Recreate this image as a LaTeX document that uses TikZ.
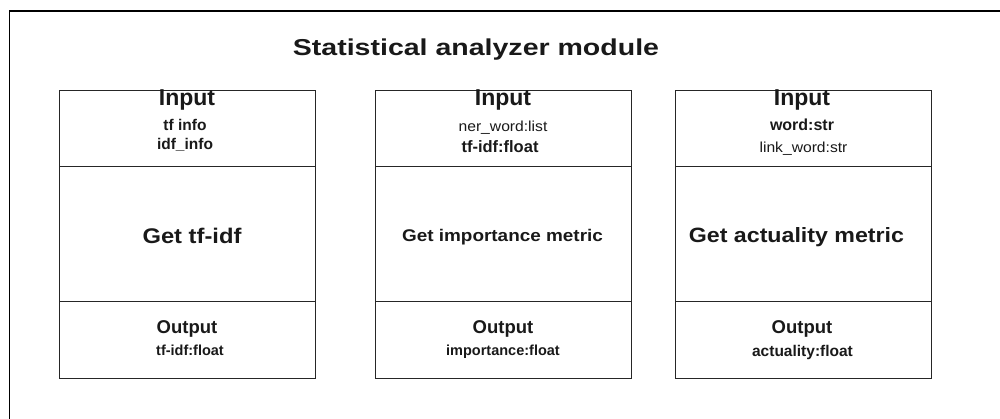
\documentclass[tikz,border=0pt]{standalone}
\usepackage{fontspec}
\setmainfont{Liberation Sans}
% slightly widened faces for the headline texts
\newfontfamily\titlefam[FakeStretch=1.24]{Liberation Sans}
\newfontfamily\headfam[FakeStretch=1.12]{Liberation Sans}
\newfontfamily\smallfam[FakeStretch=1.08]{Liberation Sans}

\tikzset{
  frame/.style={draw=black, line width=1.3pt},
  cell/.style={draw=black!85, line width=1.4pt, rectangle, anchor=north west,
               inner sep=0pt, minimum width=256pt},
  txt/.style={anchor=base, inner sep=0pt, text=black!90},
  title/.style={txt, font=\titlefam\bfseries\fontsize{23}{23}\selectfont},
  inhead/.style={txt, font=\bfseries\fontsize{23}{23}\selectfont},
  outhead/.style={txt, font=\bfseries\fontsize{18.5}{18.5}\selectfont},
  gettxt/.style={txt, font=\headfam\bfseries\fontsize{#1}{#1}\selectfont},
  valb/.style={txt, font=\bfseries\fontsize{#1}{#1}\selectfont},
  valr/.style={txt, font=\smallfam\fontsize{#1}{#1}\selectfont},
}

\begin{document}
\begin{tikzpicture}[x=1pt, y=-1pt]
  \useasboundingbox (0,0) rectangle (1000,419);
  \clip (0,0) rectangle (1000,419);

  % outer module frame (runs past the right and bottom edges)
  \node[frame, rectangle, anchor=north west, inner sep=0pt,
        minimum width=1010pt, minimum height=430pt] (module) at (9,10.5) {};

  \node[title] (ttl) at (476,56) {Statistical analyzer module};

  % ---- tf-idf block ----
  \node[cell, minimum height=76pt]  (in1)   at (59,90)  {};
  \node[cell, minimum height=135pt] (body1) at (59,166) {};
  \node[cell, minimum height=77pt]  (out1)  at (59,301) {};
  \node[inhead]      (in1h)  at (187,105.5) {Input};
  \node[valb=15.5]   (in1a)  at (185,131)   {tf info};
  \node[valb=15.5]   (in1b)  at (185,150)   {idf\_info};
  \node[gettxt=21.2] (get1)  at (192,244)   {Get tf-idf};
  \node[outhead]     (out1h) at (187,333)   {Output};
  \node[valb=14.5]   (out1a) at (190,355)   {tf-idf:float};

  % ---- importance block ----
  \node[cell, minimum height=76pt]  (in2)   at (375,90)  {};
  \node[cell, minimum height=135pt] (body2) at (375,166) {};
  \node[cell, minimum height=77pt]  (out2)  at (375,301) {};
  \node[inhead]      (in2h)  at (503,106)   {Input};
  \node[valr=14.5]   (in2a)  at (503,131.5) {ner\_word:list};
  \node[valb=16.5]   (in2b)  at (500,153)   {tf-idf:float};
  \node[gettxt=16.9] (get2)  at (502.5,242) {Get importance metric};
  \node[outhead]     (out2h) at (503,333)   {Output};
  \node[valb=14.5]   (out2a) at (503,355)   {importance:float};

  % ---- actuality block ----
  \node[cell, minimum height=76pt]  (in3)   at (675,90)  {};
  \node[cell, minimum height=135pt] (body3) at (675,166) {};
  \node[cell, minimum height=77pt]  (out3)  at (675,301) {};
  \node[inhead]      (in3h)  at (802,106)   {Input};
  \node[valb=16]     (in3a)  at (802,130.5) {word:str};
  \node[valr=14.5]   (in3b)  at (803.5,153) {link\_word:str};
  \node[gettxt=20.7] (get3)  at (796.5,243) {Get actuality metric};
  \node[outhead]     (out3h) at (802,333)   {Output};
  \node[valb=15.5]   (out3a) at (802.5,356.5) {actuality:float};
\end{tikzpicture}
\end{document}
